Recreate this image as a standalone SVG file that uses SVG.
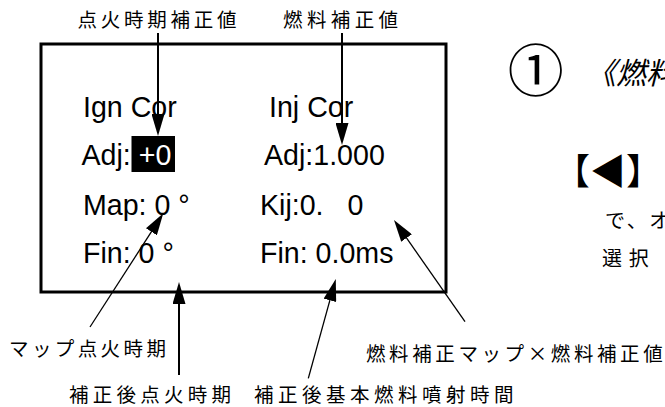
<svg xmlns="http://www.w3.org/2000/svg" width="665" height="407" viewBox="0 0 665 407">
<defs>
<style>
.lat{font-family:"Liberation Sans",Arial,sans-serif;font-size:28.6px;fill:#000}
.jp{font-family:"Noto Sans CJK JP","Noto Sans CJK SC",sans-serif;font-size:19.5px;fill:#000}
.side{font-family:"Noto Sans CJK JP","Noto Sans CJK SC",sans-serif;fill:#000}
.ln{stroke:#000;fill:none}
</style>
<marker id="ah" markerUnits="userSpaceOnUse" viewBox="0 0 22 13" refX="12" refY="6.5" markerWidth="22" markerHeight="13" orient="auto">
<path d="M0,0 L22,6.5 L0,13 Z" fill="#000"/>
</marker>
</defs>
<rect width="665" height="407" fill="#fff"/>
<g id="panel">
<rect x="41" y="44" width="405" height="248" fill="none" stroke="#000" stroke-width="3"/>
<rect x="131.5" y="136" width="43.5" height="36" fill="#000"/>
<text class="lat" x="83" y="117">Ign Cor</text>
<text class="lat" x="269" y="117">Inj Cor</text>
<text class="lat" x="81.5" y="165">Adj: <tspan fill="#fff">+0</tspan></text>
<text class="lat" x="264" y="165">Adj:1.000</text>
<text class="lat" x="83" y="215">Map: 0 °</text>
<text class="lat" x="260" y="215" xml:space="preserve" style="white-space:pre">Kij:0.   0</text>
<text class="lat" x="83" y="263">Fin: 0 °</text>
<text class="lat" x="260" y="263">Fin: 0.0ms</text>
</g>
<g id="label-ign-adj"><text class="jp" x="77.5" y="27.4" style="letter-spacing:3.75px">点火時期補正値</text></g>
<g id="label-inj-adj"><text class="jp" x="283" y="27.4" style="letter-spacing:4.4px">燃料補正値</text></g>
<g id="label-map-ign"><text class="jp" x="9" y="356" style="letter-spacing:3.4px">マップ点火時期</text></g>
<g id="label-fin-ign"><text class="jp" x="69" y="401.5" style="letter-spacing:4.25px">補正後点火時期</text></g>
<g id="label-kij"><text class="jp" x="366" y="361" style="letter-spacing:3.6px">燃料補正マップ×燃料補正値</text></g>
<g id="label-fin-inj"><text class="jp" x="254" y="401.5" style="letter-spacing:4.5px">補正後基本燃料噴射時間</text></g>
<g id="connectors">
<line class="ln" x1="158" y1="33" x2="158" y2="126" stroke-width="2" marker-end="url(#ah)"/>
<line class="ln" x1="342" y1="33" x2="342" y2="135" stroke-width="2" marker-end="url(#ah)"/>
<line class="ln" x1="90" y1="327" x2="157.9" y2="221.7" stroke-width="1.3" marker-end="url(#ah)"/>
<line class="ln" x1="179" y1="375" x2="179" y2="292" stroke-width="2" marker-end="url(#ah)"/>
<line class="ln" x1="308.3" y1="378.3" x2="333.1" y2="288.7" stroke-width="1.3" marker-end="url(#ah)"/>
<line class="ln" x1="465" y1="321.7" x2="399.7" y2="228.2" stroke-width="1.3" marker-end="url(#ah)"/>
</g>
<g id="side-text">
<text class="side" x="535.7" y="91" text-anchor="middle" style="font-size:56px">①</text>
<text class="side" x="586" y="84" style="font-size:30px;font-style:italic">《燃料</text>
<text class="side" x="554" y="185" style="font-size:36px">【◀】</text>
<text class="side" x="605" y="228" style="font-size:20px;letter-spacing:2.5px">で、オ</text>
<text class="side" x="602" y="266" style="font-size:20px;letter-spacing:6.7px">選択</text>
</g>
</svg>
